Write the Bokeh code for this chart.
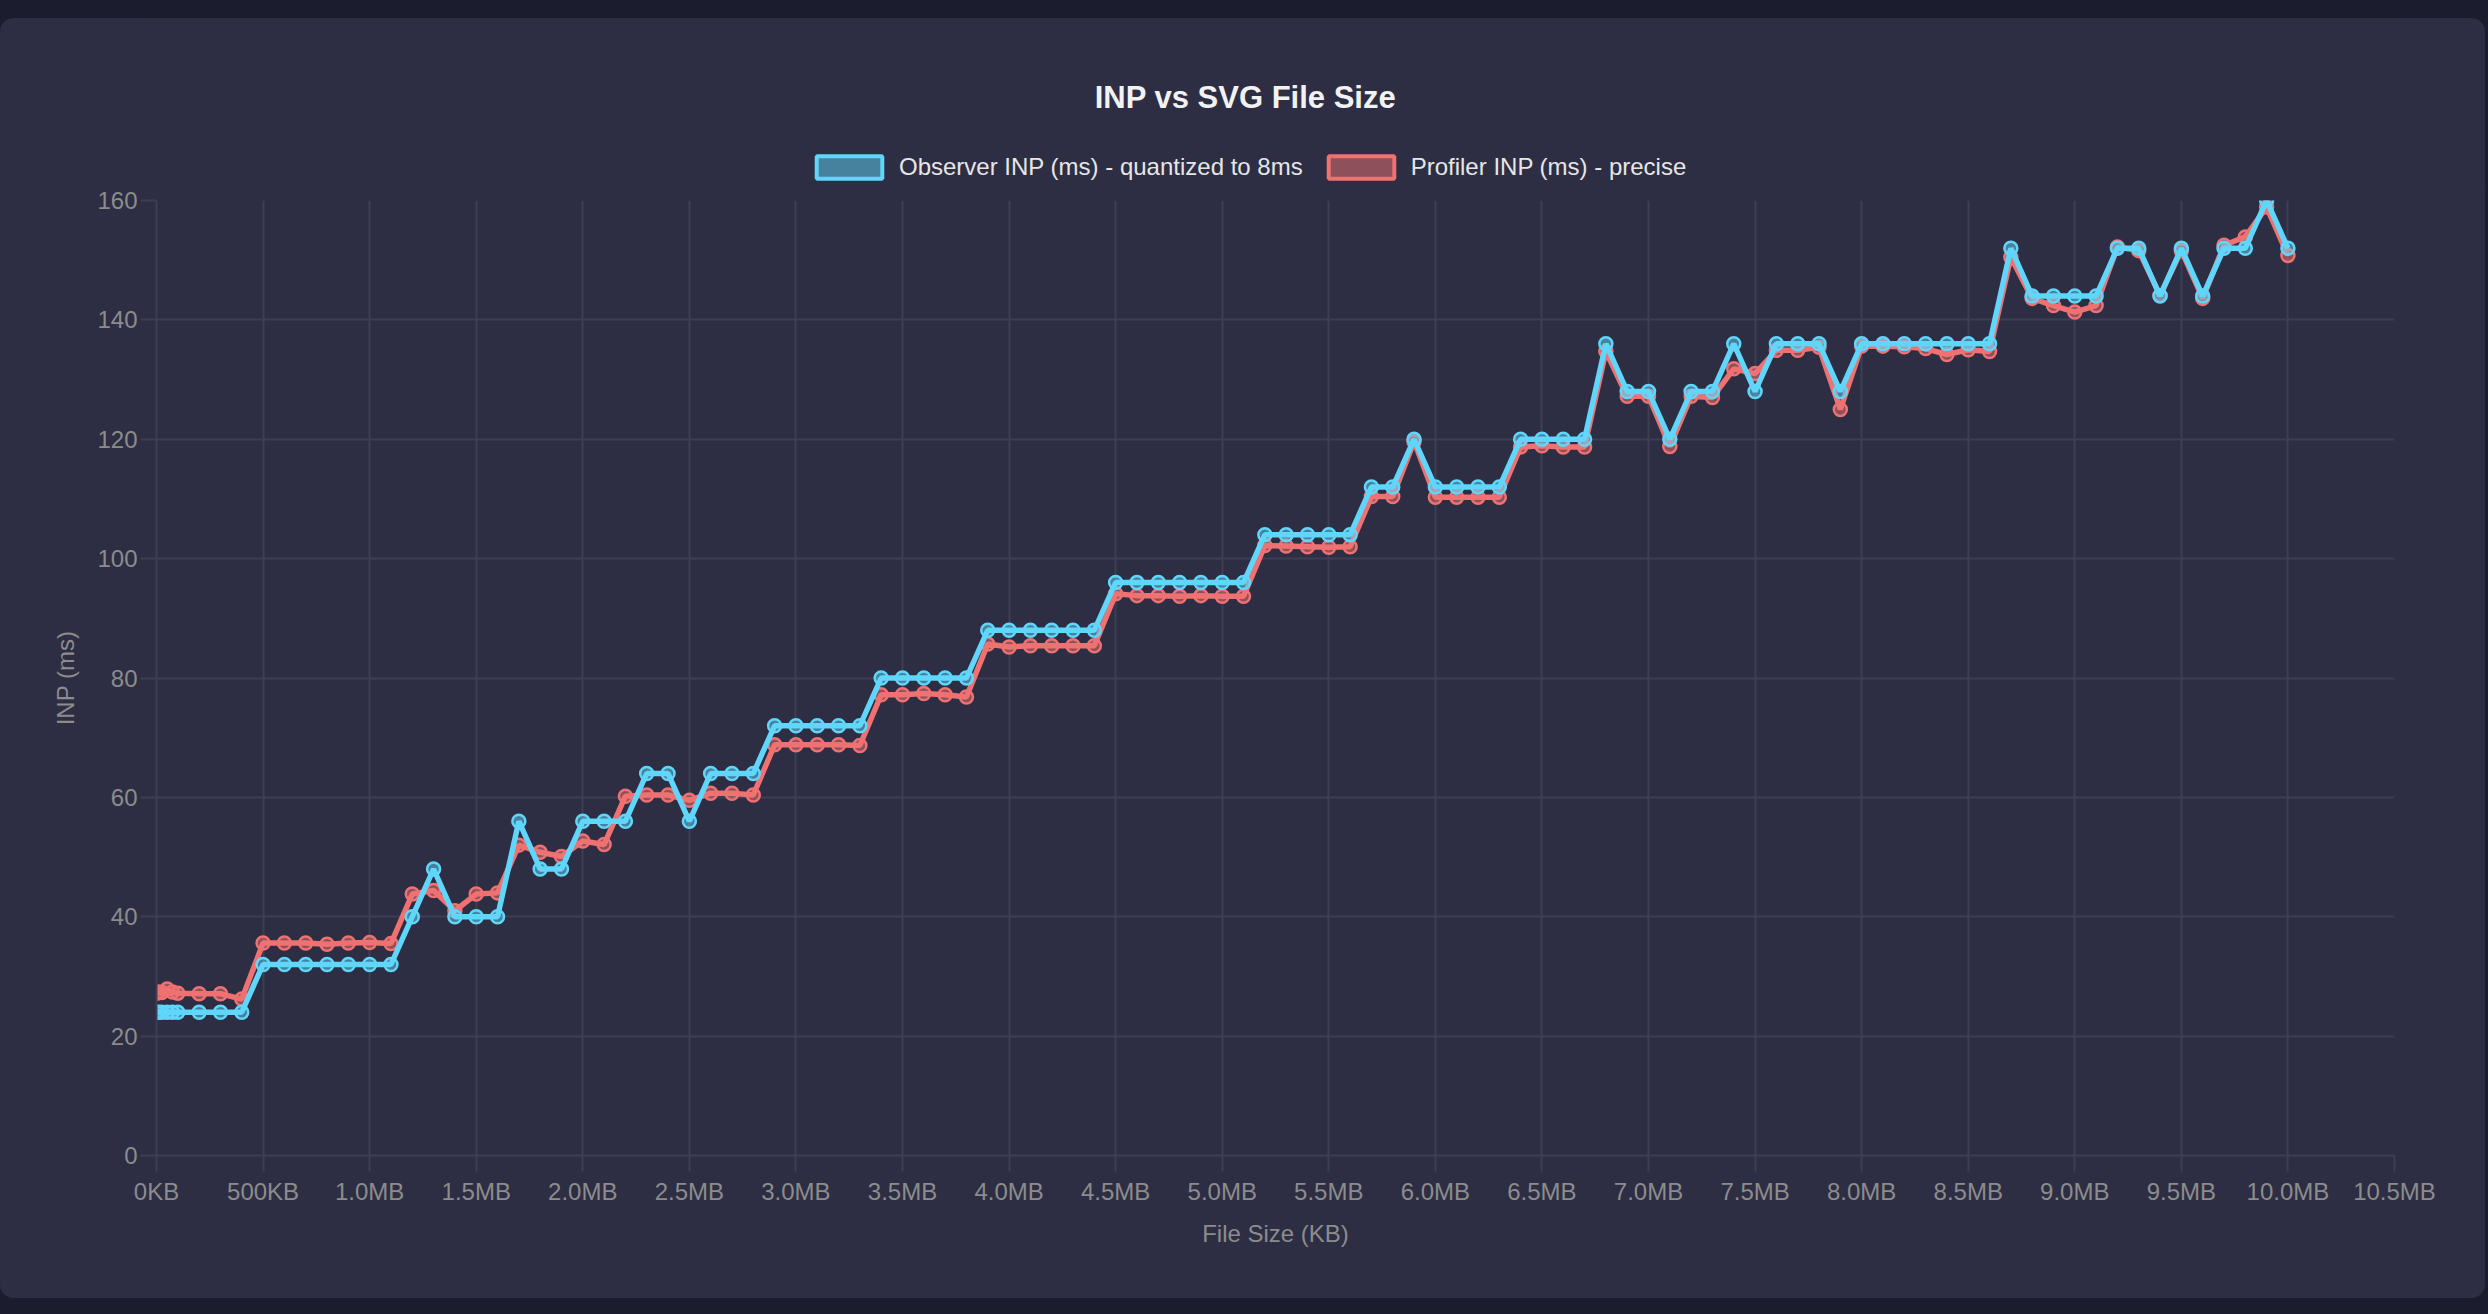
from bokeh.embed import file_html
from bokeh.layouts import column
from bokeh.models import (FixedTicker, GlobalInlineStyleSheet, Label, Legend, LegendItem,
                          Range1d)
from bokeh.plotting import figure
from bokeh.resources import INLINE

PAGE_BG = "#1b1c2e"
CARD_BG = "#2d2e43"
GRID_COLOUR = "#3d3e54"
MUTED = "#8c8c8c"
OBSERVER_COLOUR = "#5fd6fa"
PROFILER_COLOUR = "#ef7171"
FONT = "Liberation Sans"
CARD_WIDTH = 2485

# SVG file size in KB
size_kb = [
    1, 10, 25, 50, 75, 100,
    200, 300, 400, 500, 600, 700, 800, 900, 1000,
    1100, 1200, 1300, 1400, 1500, 1600, 1700, 1800, 1900, 2000,
    2100, 2200, 2300, 2400, 2500, 2600, 2700, 2800, 2900, 3000,
    3100, 3200, 3300, 3400, 3500, 3600, 3700, 3800, 3900, 4000,
    4100, 4200, 4300, 4400, 4500, 4600, 4700, 4800, 4900, 5000,
    5100, 5200, 5300, 5400, 5500, 5600, 5700, 5800, 5900, 6000,
    6100, 6200, 6300, 6400, 6500, 6600, 6700, 6800, 6900, 7000,
    7100, 7200, 7300, 7400, 7500, 7600, 7700, 7800, 7900, 8000,
    8100, 8200, 8300, 8400, 8500, 8600, 8700, 8800, 8900, 9000,
    9100, 9200, 9300, 9400, 9500, 9600, 9700, 9800, 9900, 10000,
]

# observer INP, quantized to 8ms
observer_inp = [
    24, 24, 24, 24, 24, 24,
    24, 24, 24, 32, 32, 32, 32, 32, 32,
    32, 40, 48, 40, 40, 40, 56, 48, 48, 56,
    56, 56, 64, 64, 56, 64, 64, 64, 72, 72,
    72, 72, 72, 80, 80, 80, 80, 80, 88, 88,
    88, 88, 88, 88, 96, 96, 96, 96, 96, 96,
    96, 104, 104, 104, 104, 104, 112, 112, 120, 112,
    112, 112, 112, 120, 120, 120, 120, 136, 128, 128,
    120, 128, 128, 136, 128, 136, 136, 136, 128, 136,
    136, 136, 136, 136, 136, 136, 152, 144, 144, 144,
    144, 152, 152, 144, 152, 144, 152, 152, 160, 152,
]

# profiler INP, precise
profiler_inp = [
    27.2, 27.4, 27.3, 27.9, 27.4, 27.2,
    27.1, 27.1, 26.2, 35.6, 35.6, 35.6, 35.4, 35.6, 35.7,
    35.5, 43.8, 44.4, 41.0, 43.8, 44.0, 52.0, 50.8, 50.1, 52.7,
    52.1, 60.2, 60.4, 60.4, 59.5, 60.7, 60.7, 60.4, 68.8, 68.8,
    68.8, 68.8, 68.7, 77.2, 77.2, 77.4, 77.2, 76.8, 85.7, 85.2,
    85.4, 85.4, 85.4, 85.4, 94.1, 93.8, 93.8, 93.7, 93.8, 93.7,
    93.7, 102.2, 102.1, 102.0, 101.9, 102.0, 110.4, 110.4, 119.6, 110.3,
    110.3, 110.3, 110.3, 118.7, 118.9, 118.7, 118.7, 134.7, 127.2, 127.2,
    118.8, 127.2, 127.0, 131.8, 131.0, 134.9, 134.9, 135.4, 125.0, 135.6,
    135.6, 135.5, 135.2, 134.2, 135.0, 134.7, 150.5, 143.6, 142.4, 141.3,
    142.4, 152.2, 151.6, 144.1, 151.6, 143.6, 152.5, 153.9, 158.9, 150.8,
]

x_ticks = [0, 500, 1000, 1500, 2000, 2500, 3000, 3500, 4000, 4500, 5000,
           5500, 6000, 6500, 7000, 7500, 8000, 8500, 9000, 9500, 10000, 10500]
x_tick_labels = ["0KB", "500KB", "1.0MB", "1.5MB", "2.0MB", "2.5MB", "3.0MB",
                 "3.5MB", "4.0MB", "4.5MB", "5.0MB", "5.5MB", "6.0MB", "6.5MB",
                 "7.0MB", "7.5MB", "8.0MB", "8.5MB", "9.0MB", "9.5MB", "10.0MB",
                 "10.5MB"]
y_ticks = [0, 20, 40, 60, 80, 100, 120, 140, 160]


def blank_figure(height, colour):
    f = figure(width=CARD_WIDTH, height=height, x_range=Range1d(0, 1), y_range=Range1d(0, 1),
               output_backend="svg", toolbar_location=None, tools="",
               x_axis_location=None, y_axis_location=None,
               background_fill_color=colour, border_fill_color=colour,
               min_border=0, outline_line_color=None)
    f.grid.visible = False
    return f


# dark strip above the card
band = blank_figure(18, PAGE_BG)

# header strip of the card: title + legend
head = blank_figure(168, CARD_BG)

# the column lines the header frame up with the chart frame, so these screen
# positions are measured from the chart frame's left edge and the header's bottom
head.add_layout(Label(x=1089, y=89, x_units="screen", y_units="screen",
                      text="INP vs SVG File Size", text_align="center",
                      text_baseline="middle", text_font=FONT, text_font_size="31px",
                      text_font_style="bold", text_color="#f2f2f2"))

# hidden renderers that only supply the legend swatches (boxes, not lines)
obs_key = head.quad(left=[0], right=[0], top=[0], bottom=[0], fill_color=OBSERVER_COLOUR,
                    fill_alpha=0.5, line_color=OBSERVER_COLOUR, line_width=4, visible=False)
prof_key = head.quad(left=[0], right=[0], top=[0], bottom=[0], fill_color=PROFILER_COLOUR,
                     fill_alpha=0.5, line_color=PROFILER_COLOUR, line_width=4, visible=False)

legend = Legend(items=[
    LegendItem(label="Observer INP (ms) - quantized to 8ms", renderers=[obs_key]),
    LegendItem(label="Profiler INP (ms) - precise", renderers=[prof_key]),
], orientation="horizontal", location=(652, 5), margin=0, padding=0, spacing=17,
    glyph_width=82, glyph_height=28, label_standoff=9, label_height=28,
    label_text_font=FONT, label_text_font_size="24px", label_text_color="#e6e6e6",
    background_fill_alpha=0, border_line_color=None, inactive_fill_alpha=0)
head.add_layout(legend)


# main chart
p = figure(width=CARD_WIDTH, height=1112, x_range=Range1d(0, 10500), y_range=Range1d(0, 160),
           output_backend="svg", toolbar_location=None, tools="",
           background_fill_color=CARD_BG, border_fill_color=CARD_BG,
           min_border_left=156, min_border_right=91, min_border_top=14,
           min_border_bottom=143)
p.outline_line_color = None

for grid, ticks in ((p.xgrid, x_ticks), (p.ygrid, y_ticks)):
    grid.ticker = FixedTicker(ticks=ticks)
    grid.grid_line_color = GRID_COLOUR
    grid.grid_line_width = 2

p.xaxis.ticker = FixedTicker(ticks=x_ticks)
p.xaxis.major_label_overrides = dict(zip(x_ticks, x_tick_labels))
p.yaxis.ticker = FixedTicker(ticks=y_ticks)
p.xaxis.axis_label = "File Size (KB)"
p.yaxis.axis_label = "INP (ms)"

for axis in (p.xaxis[0], p.yaxis[0]):
    axis.axis_line_color = GRID_COLOUR
    axis.axis_line_width = 2
    axis.major_tick_line_color = GRID_COLOUR
    axis.major_tick_line_width = 2
    axis.major_tick_out = 16
    axis.major_tick_in = 0
    axis.minor_tick_line_color = None
    axis.major_label_text_font = FONT
    axis.major_label_text_font_size = "24px"
    axis.major_label_text_color = MUTED
    axis.axis_label_text_font = FONT
    axis.axis_label_text_font_size = "24px"
    axis.axis_label_text_font_style = "normal"
    axis.axis_label_text_color = MUTED

p.xaxis.major_label_standoff = 6
p.xaxis.axis_label_standoff = 12
p.yaxis.major_label_standoff = 3
p.yaxis.axis_label_standoff = 15

# profiler drawn first so observer sits on top
p.line(size_kb, profiler_inp, line_color=PROFILER_COLOUR, line_width=5.5)
p.scatter(size_kb, profiler_inp, size=13, fill_color=PROFILER_COLOUR, fill_alpha=0.5,
          line_color=PROFILER_COLOUR, line_width=2.5)
p.line(size_kb, observer_inp, line_color=OBSERVER_COLOUR, line_width=5.5)
p.scatter(size_kb, observer_inp, size=13, fill_color=OBSERVER_COLOUR, fill_alpha=0.5,
          line_color=OBSERVER_COLOUR, line_width=2.5)

card = column(head, p, spacing=0)
card.styles = {"background-color": CARD_BG, "border-radius": "14px", "overflow": "hidden"}

page = column(band, card, spacing=0)
page.stylesheets = [GlobalInlineStyleSheet(css=f"body {{ background-color: {PAGE_BG}; }}")]

open("out.html", "w").write(file_html(page, INLINE))
